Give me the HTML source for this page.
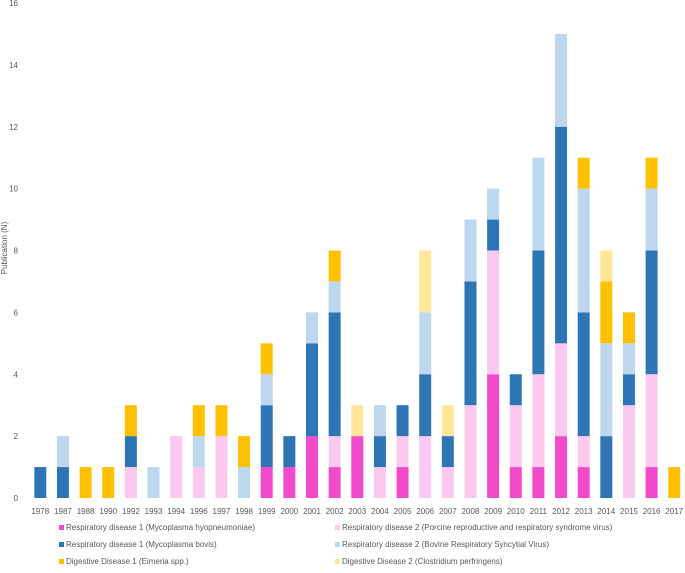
<!DOCTYPE html>
<html><head><meta charset="utf-8"><style>
body{margin:0;background:#fff;font-family:"Liberation Sans",sans-serif}
svg text{font-family:"Liberation Sans",sans-serif;fill:#595959}
</style></head><body>
<svg id="c" width="685" height="568"></svg>
<script>
const categories=["1978","1987","1988","1990","1992","1993","1994","1996","1997","1998","1999","2000","2001","2002","2003","2004","2005","2006","2007","2008","2009","2010","2011","2012","2013","2014","2015","2016","2017"];
const mhyo =[0,0,0,0,0,0,0,0,0,0,1,1,2,1,2,0,1,0,0,0,4,1,1,2,1,0,0,1,0];
const prrs =[0,0,0,0,1,0,2,1,2,0,0,0,0,1,0,1,1,2,1,3,4,2,3,3,1,0,3,3,0];
const mbov =[1,1,0,0,1,0,0,0,0,0,2,1,3,4,0,1,1,2,1,4,1,1,4,7,4,2,1,4,0];
const brsv =[0,1,0,0,0,1,0,1,0,1,1,0,1,1,0,1,0,2,0,2,1,0,3,3,4,3,1,2,0];
const eime =[0,0,1,1,1,0,0,1,1,1,1,0,0,1,0,0,0,0,0,0,0,0,0,0,1,2,1,1,1];
const clos =[0,0,0,0,0,0,0,0,0,0,0,0,0,0,1,0,0,2,1,0,0,0,0,0,0,1,0,0,0];
const yTicks=[0,2,4,6,8,10,12,14,16];
const seriesNames=["Respiratory disease 1 (Mycoplasma hyopneumoniae)","Respiratory disease 2 (Porcine reproductive and respiratory syndrome virus)","Respiratory disease 1 (Mycoplasma bovis)","Respiratory disease 2 (Bovine Respiratory Syncytial Virus)","Digestive Disease 1 (Eimeria spp.)","Digestive Disease 2 (Clostridium perfringens)"];
const series=[mhyo,prrs,mbov,brsv,eime,clos];
const colors=["#F14BCB","#FBC9F0","#2E75B6","#BDD7EE","#FFC000","#FFE699"];
const keys=["mhyo","prrs","mbov","brsv","eime","clos"];
const svg=document.getElementById('c');const NS="http://www.w3.org/2000/svg";
const y0=498,y1=3,yMax=16,x0=29,step=22.64,bw=12;
const y=v=>y0-(v/yMax)*(y0-y1);
const x=i=>x0+step*(i+0.5);
function mk(t,a){const e=document.createElementNS(NS,t);for(const k in a)e.setAttribute(k,a[k]);svg.appendChild(e);return e;}
yTicks.forEach(v=>{const t=mk('text',{x:18,y:y(v)+3,'font-size':8,'text-anchor':'end'});t.textContent=v;

});
const yt=mk('text',{x:0,y:0,'font-size':8,'text-anchor':'middle',transform:'translate(7,248) rotate(-90)'});yt.textContent="Publication (N)";


categories.forEach((c,i)=>{let acc=0;
series.forEach((s,k)=>{const v=s[i];if(!v)return;
const r=mk('rect',{x:x(i)-bw/2,y:y(acc+v),width:bw,height:y(acc)-y(acc+v),fill:colors[k]});


acc+=v;});
const t=mk('text',{x:x(i),y:514,'font-size':8,'text-anchor':'middle'});t.textContent=c;

});
const lx=[59,335],ly=[531,548,565];
seriesNames.forEach((n,k)=>{const cx=lx[k%2],cy=ly[Math.floor(k/2)];
const g=document.createElementNS(NS,'g');svg.appendChild(g);


const r=document.createElementNS(NS,'rect');r.setAttribute('x',cx);r.setAttribute('y',cy-6);r.setAttribute('width',5);r.setAttribute('height',5);r.setAttribute('fill',colors[k]);g.appendChild(r);
const t=document.createElementNS(NS,'text');t.setAttribute('x',cx+7);t.setAttribute('y',cy-1);t.setAttribute('font-size',8);t.textContent=n;g.appendChild(t);});
</script>
</body></html>
